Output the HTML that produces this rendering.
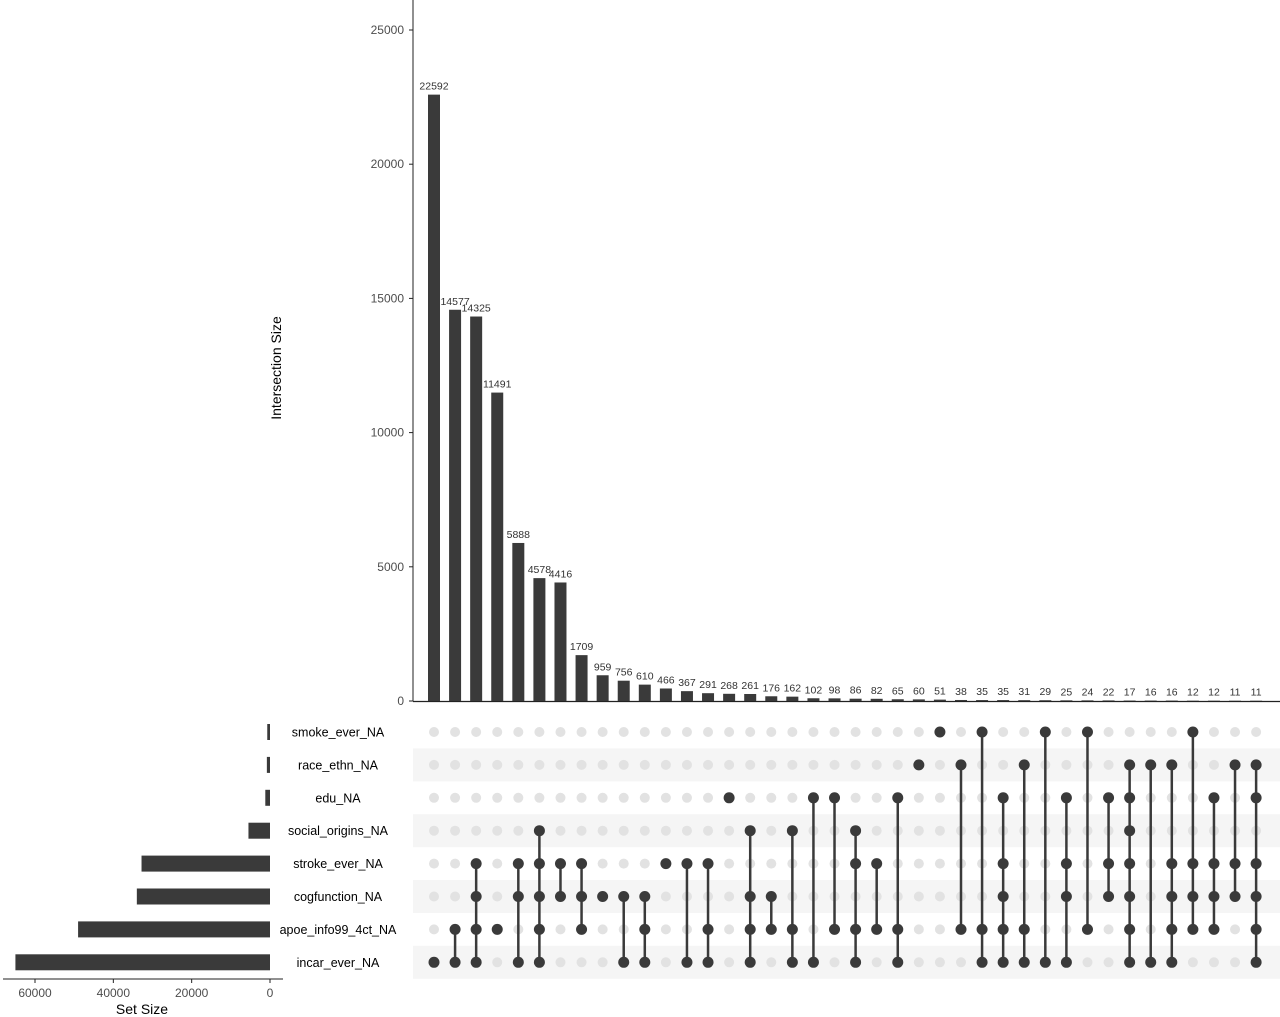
<!DOCTYPE html>
<html><head><meta charset="utf-8">
<style>
html,body{margin:0;padding:0;background:#fff;}
svg{display:block;font-family:"Liberation Sans",Arial,sans-serif;}
</style></head>
<body>
<svg id="chart" width="1280" height="1017" viewBox="0 0 1280 1017" xmlns="http://www.w3.org/2000/svg"></svg>
<script>
const intersectionSizes = [22592,14577,14325,11491,5888,4578,4416,1709,959,756,610,466,367,291,268,261,176,162,102,98,86,82,65,60,51,38,35,35,31,29,25,24,22,17,16,16,12,12,11,11];
const setNames = ["smoke_ever_NA","race_ethn_NA","edu_NA","social_origins_NA","stroke_ever_NA","cogfunction_NA","apoe_info99_4ct_NA","incar_ever_NA"];
const setSizes = [700,800,1200,5500,32800,34000,49000,65000];
const intersectionMembers = [
 [7],[6,7],[4,5,6,7],[6],[4,5,7],[3,4,5,6,7],[4,5],[4,5,6],[5],[5,7],
 [5,6,7],[4],[4,7],[4,6,7],[2],[3,5,6,7],[5,6],[3,6,7],[2,7],[2,6],
 [3,4,6,7],[4,6],[2,6,7],[1],[0],[1,6],[0,6,7],[2,4,5,6,7],[1,6,7],[0,7],
 [2,4,5,7],[0,6],[2,4,5],[1,2,3,4,5,6,7],[1,7],[1,4,5,6,7],[0,4,5,6],[2,4,5,6],[1,4,5],[1,2,4,5,6,7]
];
const yTicks = [0,5000,10000,15000,20000,25000];
const setTicks = [0,20000,40000,60000];

const svg = document.getElementById('chart');
const NS = 'http://www.w3.org/2000/svg';
function mk(tag, attrs, parent){const e=document.createElementNS(NS,tag);for(const k in attrs)e.setAttribute(k,attrs[k]);(parent||svg).appendChild(e);return e;}

const colX = i => 434 + i*21.08;
const yScale = v => 701 - v*(671/25000);
const rowY = r => 732 + r*32.9;
const setX = v => 270 - v*(235/60000);
const dark = '#3a3a3a';

// row bands
for(let r=0;r<setNames.length;r++){
  if(r%2===1){
    const b=mk('rect',{x:413,y:rowY(r)-16.5,width:867,height:33,fill:'#f5f5f5'});
    
    
  }
}

// main y axis
const ax=mk('line',{x1:413,y1:0,x2:413,y2:701,stroke:'#222','stroke-width':1});


const bx=mk('line',{x1:413,y1:701.5,x2:1280,y2:701.5,stroke:'#222','stroke-width':1.2});


yTicks.forEach(t=>{
  const y=yScale(t);
  const tk=mk('line',{x1:409,y1:y,x2:413,y2:y,stroke:'#222'});
  
  
  const tx=mk('text',{x:404,y:y+4,'text-anchor':'end','font-size':12,fill:'#4d4d4d'});
  tx.textContent=t;
  
  
});
const yt=mk('text',{x:0,y:0,transform:'translate(281,368) rotate(-90)','text-anchor':'middle','font-size':14,fill:'#000'});
yt.textContent='Intersection Size';



// bars
intersectionSizes.forEach((v,i)=>{
  const x=colX(i), y=yScale(v);
  const r=mk('rect',{x:x-6,y:y,width:12,height:701-y,fill:dark});
  
  
  const t=mk('text',{x:x,y:y-5,'text-anchor':'middle','font-size':10.5,fill:'#333'});
  t.textContent=v;
  
  
});

// matrix
intersectionMembers.forEach((mem,i)=>{
  const x=colX(i);
  for(let r=0;r<setNames.length;r++){
    if(mem.indexOf(r)<0){
      const c=mk('circle',{cx:x,cy:rowY(r),r:5,fill:'#e2e2e2'});
      
      
    }
  }
  const mn=Math.min(...mem), mx=Math.max(...mem);
  if(mx>mn){
    const l=mk('line',{x1:x,y1:rowY(mn),x2:x,y2:rowY(mx),stroke:dark,'stroke-width':2.5});
    
    
  }
  mem.forEach(r=>{
    const c=mk('circle',{cx:x,cy:rowY(r),r:5.5,fill:dark});
    
    
  });
});

// set labels & set size bars
setNames.forEach((n,r)=>{
  const y=rowY(r);
  const t=mk('text',{x:338,y:y+4.5,'text-anchor':'middle','font-size':12.5,fill:'#000'});
  t.textContent=n;
  
  
  const x0=setX(setSizes[r]);
  const b=mk('rect',{x:x0,y:y-8,width:270-x0,height:16,fill:dark});
  
  
});
const sa=mk('line',{x1:3,y1:979,x2:283,y2:979,stroke:'#222','stroke-width':1});


setTicks.forEach(t=>{
  const x=setX(t);
  const tk=mk('line',{x1:x,y1:979,x2:x,y2:983,stroke:'#222'});
  
  
  const tx=mk('text',{x:x,y:997,'text-anchor':'middle','font-size':12,fill:'#4d4d4d'});
  tx.textContent=t;
  
  
});
const st=mk('text',{x:142,y:1014,'text-anchor':'middle','font-size':14,fill:'#000'});
st.textContent='Set Size';


</script>
</body></html>
